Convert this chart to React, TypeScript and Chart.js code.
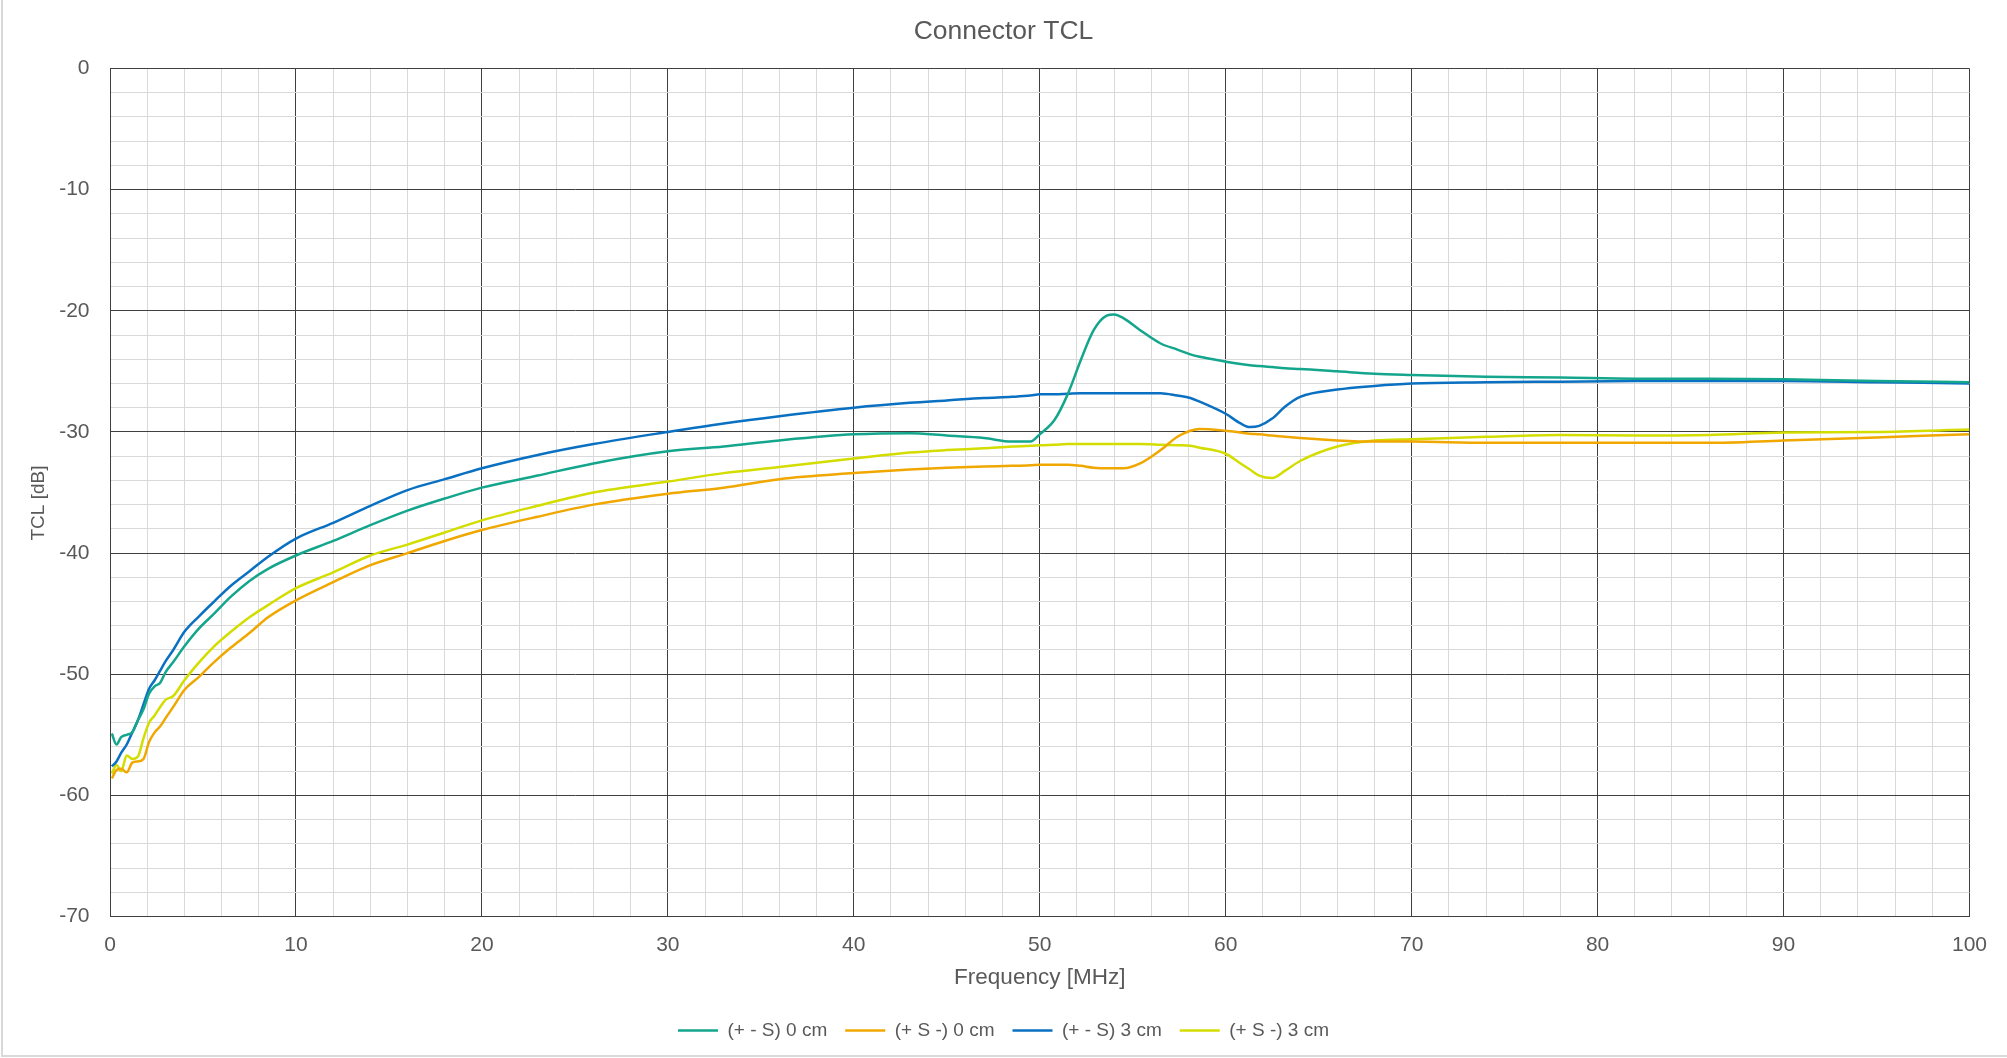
import React, { useEffect, useRef } from "react";
import { Chart, registerables } from "chart.js";

Chart.register(...registerables);

const chartTitle = "Connector TCL";
const xAxisTitle = "Frequency [MHz]";
const yAxisTitle = "TCL [dB]";

const seriesNames = ["(+ - S) 0 cm", "(+ S -) 0 cm", "(+ - S) 3 cm", "(+ S -) 3 cm"];
const seriesColors = ["#14a68c", "#f0a800", "#0a70c2", "#d3dd00"];

const freqMHz = [
  0.1, 0.35, 0.6, 0.9, 1.2, 1.5, 1.8, 2.1, 2.4, 2.7, 3.0, 3.4, 4.0, 4.8, 5.6, 6.5, 7.5, 8.5,
  10, 12, 14, 16, 18, 20, 23, 26, 30, 33, 36, 40, 43, 45, 47, 48.5, 49.5, 50, 50.8, 51.5,
  52.2, 52.9, 53.6, 54.0, 54.5, 55.4, 56.5, 57.4, 58.1, 58.6, 60, 60.8, 61.3, 61.8, 62.5,
  63.2, 64, 66, 68, 70, 74, 78, 82, 86, 90, 95, 100,
];

const pmS0cm = [
  -54.9, -55.8, -55.2, -55.0, -54.8, -53.8, -52.9, -51.6, -51.0, -50.7, -49.8, -49.0, -47.7,
  -46.2, -45.0, -43.6, -42.3, -41.3, -40.2, -39.0, -37.7, -36.5, -35.5, -34.6, -33.6, -32.6,
  -31.6, -31.2, -30.7, -30.2, -30.1, -30.3, -30.5, -30.8, -30.8, -30.2, -29.0, -26.9, -24.1,
  -21.6, -20.4, -20.3, -20.6, -21.6, -22.7, -23.2, -23.6, -23.8, -24.2, -24.4, -24.5, -24.55,
  -24.65, -24.75, -24.8, -25.0, -25.2, -25.3, -25.45, -25.5, -25.6, -25.6, -25.65, -25.8, -25.9,
];

const pSm0cm = [
  -58.6, -57.9, -57.8, -58.1, -57.3, -57.2, -57.0, -55.6, -54.8, -54.3, -53.6, -52.7, -51.3,
  -50.2, -49.0, -47.8, -46.6, -45.3, -43.9, -42.4, -41.0, -40.0, -39.0, -38.1, -37.0, -36.0,
  -35.1, -34.6, -33.9, -33.4, -33.1, -32.95, -32.85, -32.8, -32.75, -32.7, -32.7, -32.7, -32.8,
  -32.95, -33.0, -33.0, -33.0, -32.6, -31.5, -30.4, -29.9, -29.75, -29.9, -30.05, -30.15, -30.2,
  -30.3, -30.4, -30.5, -30.7, -30.8, -30.8, -30.9, -30.9, -30.9, -30.9, -30.7, -30.45, -30.2,
];

const pmS3cm = [
  -57.6, -57.2, -56.5, -55.8, -54.8, -53.8, -52.5, -51.2, -50.5, -49.7, -48.9, -48.0, -46.5,
  -45.2, -44.0, -42.7, -41.5, -40.3, -38.8, -37.5, -36.1, -34.8, -33.9, -33.0, -31.9, -31.0,
  -30.0, -29.3, -28.7, -28.0, -27.6, -27.4, -27.2, -27.1, -27.0, -26.9, -26.9, -26.85, -26.8,
  -26.8, -26.8, -26.8, -26.8, -26.8, -26.8, -27.0, -27.2, -27.5, -28.5, -29.3, -29.6, -29.5,
  -28.9, -27.9, -27.1, -26.5, -26.2, -26.0, -25.9, -25.85, -25.8, -25.8, -25.8, -25.9, -26.0,
];

const pSm3cm = [
  -58.2, -57.5, -58.0, -56.7, -57.0, -56.8, -55.3, -54.0, -53.4, -52.7, -52.1, -51.8, -50.5,
  -49.0, -47.7, -46.5, -45.3, -44.3, -42.9, -41.6, -40.2, -39.3, -38.3, -37.3, -36.1, -35.0,
  -34.1, -33.4, -32.9, -32.2, -31.7, -31.5, -31.35, -31.2, -31.15, -31.1, -31.05, -31.0, -31.0,
  -31.0, -31.0, -31.0, -31.0, -31.0, -31.05, -31.1, -31.15, -31.3, -31.8, -32.6, -33.1, -33.6,
  -33.8, -33.2, -32.4, -31.2, -30.7, -30.6, -30.4, -30.25, -30.3, -30.25, -30.05, -30.0, -29.8,
];

const seriesValues = [pmS0cm, pSm0cm, pmS3cm, pSm3cm];

const FONT = "'Liberation Sans', Arial, sans-serif";
const TEXT_COLOR = "#595959";
const MAJOR_GRID = "#3f3f3f";
const MINOR_GRID = "#d9d9d9";

export default function App() {
  const canvasRef = useRef<HTMLCanvasElement | null>(null);

  useEffect(() => {
    const canvas = canvasRef.current;
    if (!canvas) return;
    const datasets = seriesNames.map((name, i) => ({
      label: name,
      data: freqMHz.map((f, j) => ({ x: f, y: seriesValues[i][j] })),
      borderColor: seriesColors[i],
      backgroundColor: seriesColors[i],
      borderWidth: 2.5,
      pointRadius: 0,
      pointHoverRadius: 0,
      fill: false,
      cubicInterpolationMode: "monotone" as const,
      yAxisID: "y",
    }));

    const majorOrMinor = (ctx: any) =>
      ctx.tick && Math.round(ctx.tick.value) % 10 === 0 ? MAJOR_GRID : MINOR_GRID;

    const chart = new Chart(canvas, {
      type: "line",
      data: { datasets },
      options: {
        animation: false,
        responsive: false,
        devicePixelRatio: 1,
        events: [],
        layout: { padding: { left: 0, right: 0, top: 0, bottom: 8 } },
        plugins: {
          title: {
            display: true,
            text: chartTitle,
            color: TEXT_COLOR,
            font: { family: FONT, size: 26.5, weight: "normal" },
            padding: { top: 15.5, bottom: 21.2 },
          },
          legend: {
            display: true,
            position: "bottom",
            labels: {
              usePointStyle: true,
              pointStyle: "line",
              pointStyleWidth: 40,
              color: TEXT_COLOR,
              font: { family: FONT, size: 19 },
              padding: 18,
            },
          },
          tooltip: { enabled: false },
        },
        scales: {
          x: {
            type: "linear",
            min: 0,
            max: 100,
            afterFit: (scale: any) => {
              scale.height = 86.5;
            },
            ticks: {
              stepSize: 2,
              autoSkip: false,
              maxRotation: 0,
              padding: 16.5,
              color: TEXT_COLOR,
              font: { family: FONT, size: 21 },
              callback: (v: any) => (Math.round(Number(v)) % 10 === 0 ? String(v) : ""),
            },
            grid: { drawTicks: false, color: majorOrMinor, lineWidth: 1 },
            border: { display: true, color: MAJOR_GRID, width: 1 },
            title: {
              display: true,
              text: xAxisTitle,
              color: TEXT_COLOR,
              font: { family: FONT, size: 22.5 },
              padding: { top: 0, bottom: 12 },
            },
          },
          y: {
            type: "linear",
            position: "left",
            min: -70,
            max: 0,
            afterFit: (scale: any) => {
              scale.width = 110;
            },
            ticks: {
              stepSize: 2,
              autoSkip: false,
              padding: 20.5,
              color: TEXT_COLOR,
              font: { family: FONT, size: 21 },
              callback: (v: any) => (Math.round(Number(v)) % 10 === 0 ? String(v) : ""),
            },
            grid: { drawTicks: false, color: majorOrMinor, lineWidth: 1 },
            border: { display: true, color: MAJOR_GRID, width: 1 },
            title: {
              display: true,
              text: yAxisTitle + "    ",
              color: TEXT_COLOR,
              font: { family: FONT, size: 19 },
              padding: { top: 27, bottom: 0 },
            },
          },
          yRightSpace: {
            type: "linear",
            position: "right",
            display: true,
            min: -70,
            max: 0,
            afterFit: (scale: any) => {
              scale.width = 37.5;
            },
            ticks: { display: false },
            grid: { display: false, drawTicks: false },
            border: { display: false },
          },
        },
      },
    });
    return () => chart.destroy();
  }, []);

  return (
    <div style={{ position: "absolute", left: 0, top: 0, width: 2007, height: 1058, background: "#ffffff", overflow: "hidden" }}>
      <canvas ref={canvasRef} width={2007} height={1058} style={{ position: "absolute", left: 0, top: 0, width: 2007, height: 1058 }} />
      <div
        style={{
          position: "absolute",
          left: 1,
          top: -10,
          width: 2030,
          height: 1067,
          borderLeft: "2px solid #d9d9d9",
          borderBottom: "2px solid #d9d9d9",
          boxSizing: "border-box",
          pointerEvents: "none",
        }}
      />
    </div>
  );
}
